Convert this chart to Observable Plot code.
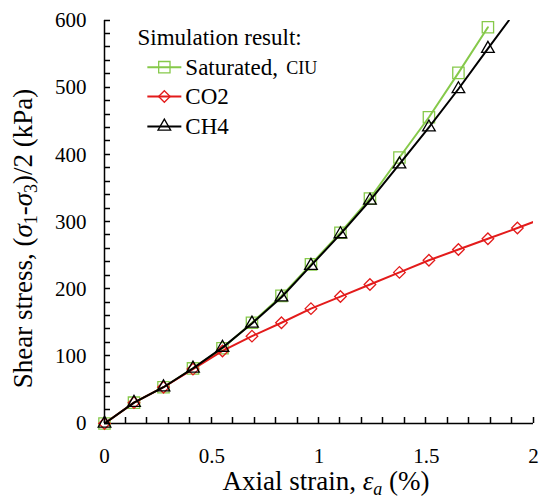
<!DOCTYPE html>
<html><head><meta charset="utf-8">
<script src="https://cdn.jsdelivr.net/npm/d3@7"></script>
<script src="https://cdn.jsdelivr.net/npm/@observablehq/plot@0.6"></script>
<style>body{margin:0;background:#fff}#chart{width:539px;height:499px}</style>
</head><body><div id="chart"></div>
<script>
// ---- data ----
const strain    = [0, 0.1375, 0.275, 0.4125, 0.55, 0.6875, 0.825, 0.9625, 1.1, 1.2375, 1.375, 1.5125, 1.65, 1.7875, 1.925];
const saturated = [0, 31, 54, 82, 112, 150, 190, 237, 284, 335, 396, 456, 522, 590];
const co2       = [0, 31, 54, 81, 108, 130, 150, 171, 189, 207, 225, 243, 259, 275, 291];
const ch4       = [0, 31, 54, 82, 113, 149, 188, 235, 282, 332, 386, 441, 498, 558];
const co2LineEnd = [2.0, 300];   // curve continues past last marker
const ch4LineEnd = [1.885, 600]; // curve leaves the frame at the top
const seriesNames = ["Saturated,", "CO2", "CH4"];
const xTickLabels = [0, 0.5, 1, 1.5, 2];
const yTickLabels = [0, 100, 200, 300, 400, 500, 600];
const xMinorTicks = [0,0.1,0.2,0.3,0.4,0.5,0.6,0.7,0.8,0.9,1,1.1,1.2,1.3,1.4,1.5,1.6,1.7,1.8,1.9,2];
const yMinorTicks = [0,20,40,60,80,100,120,140,160,180,200,220,240,260,280,300,320,340,360,380,400,420,440,460,480,500,520,540,560,580,600];

const GREEN = "#86c94a", RED = "#e31b1b", BLACK = "#000";
const pts = (xs, ys) => ys.map((y, i) => ({x: xs[i], y}));
const satPts = pts(strain, saturated);
const co2Pts = pts(strain, co2);
const ch4Pts = pts(strain, ch4);
const co2Line = [...co2Pts, {x: co2LineEnd[0], y: co2LineEnd[1]}];
const ch4Line = [...ch4Pts, {x: ch4LineEnd[0], y: ch4LineEnd[1]}];

const legendLine = {draw(c){c.moveTo(-17,0); c.lineTo(17,0);}};

const styles = [
  {color: GREEN, symbol: "square", r: 6.4},
  {color: RED, symbol: "diamond2", r: 5.2},
  {color: BLACK, symbol: "triangle", r: 4.7}
];
// legend layout (data units)
const legX = 0.279, legTextX = 0.377, legY = [530.5, 486.9, 442.3];

const legendMarks = [];
seriesNames.forEach((name, i) => {
  const s = styles[i];
  legendMarks.push(
    Plot.dot([0], {x: () => legX, y: () => legY[i], symbol: legendLine, r: 3, stroke: s.color, strokeWidth: 2, fill: "none"}),
    Plot.dot([0], {x: () => legX, y: () => legY[i], symbol: s.symbol, r: s.r, stroke: s.color, strokeWidth: 1.3, fill: "none"}),
    Plot.text([name], {x: () => legTextX, y: () => legY[i], text: d => d, textAnchor: "start", fontSize: 23, fill: "black"})
  );
});
legendMarks.push(
  Plot.text(["CIU"], {x: () => legTextX, y: () => legY[0], text: d => d, textAnchor: "start", dx: 101, dy: 1, fontSize: 18, fill: "black"}),
  Plot.text(["Simulation result:"], {x: () => 0.154, y: () => 575, text: d => d, textAnchor: "start", fontSize: 23, fill: "black"})
);

const series = (line, points, s) => [
  Plot.line(line, {x: "x", y: "y", stroke: s.color, strokeWidth: 2, clip: true}),
  Plot.dot(points, {x: "x", y: "y", symbol: s.symbol, r: s.r, stroke: s.color, strokeWidth: 1.3, fill: "none"})
];

const chart = Plot.plot({
  width: 539, height: 499,
  marginLeft: 104, marginRight: 6, marginTop: 20, marginBottom: 76,
  x: {domain: [0, 2]},
  y: {domain: [0, 600]},
  style: {fontFamily: "'Liberation Serif', 'Times New Roman', serif", fontSize: "21px", color: "black", background: "white", overflow: "visible"},
  marks: [
    Plot.axisX({ticks: xTickLabels, tickSize: 0, tickPadding: 25, tickFormat: d => String(d), label: null, fontSize: 21}),
    Plot.axisY({ticks: yTickLabels, tickSize: 0, tickPadding: 18, tickFormat: d => String(d), label: null, fontSize: 21}),
    Plot.ruleX([0], {y1: 0, y2: 600, stroke: "black", strokeWidth: 1.5}),
    Plot.ruleY([0], {x1: 0, x2: 2, stroke: "black", strokeWidth: 1.5}),
    ...series(satPts, satPts, styles[0]),
    ...series(co2Line, co2Pts, styles[1]),
    ...series(ch4Line, ch4Pts, styles[2]),
    ...legendMarks
  ]
});
document.getElementById("chart").appendChild(chart);

const svg = d3.select(chart);
const xs = chart.scale("x"), ys = chart.scale("y");

// inward minor ticks, positioned through Plot's scales (snapped to the pixel grid)
const snap = v => Math.round(v - 0.5) + 0.5;
const tg = svg.append("g").attr("stroke", "#000").attr("stroke-width", 1.5).attr("fill", "none");
const x0 = xs.apply(0), y0 = ys.apply(0);
xMinorTicks.forEach(t => {
  const px = snap(xs.apply(t));
  tg.append("line").attr("x1", px).attr("x2", px).attr("y1", y0).attr("y2", y0 - 6);
});
yMinorTicks.forEach(t => {
  const py = snap(ys.apply(t));
  tg.append("line").attr("x1", x0).attr("x2", x0 + 6).attr("y1", py).attr("y2", py);
});

// axis titles with italic symbols and subscripts
const xt = svg.append("text")
  .attr("x", 326).attr("y", 490)
  .attr("text-anchor", "middle").attr("font-size", 27).attr("fill", "black");
xt.append("tspan").text("Axial strain, ");
xt.append("tspan").attr("font-style", "italic").text("ε");
xt.append("tspan").attr("font-style", "italic").attr("font-size", 18).attr("dy", 5).text("a");
xt.append("tspan").attr("dy", -5).text(" (%)");

const yt = svg.append("text")
  .attr("transform", `translate(32,${(ys.apply(0) + ys.apply(600)) / 2 + 17}) rotate(-90)`)
  .attr("text-anchor", "middle").attr("font-size", 27).attr("fill", "black");
yt.append("tspan").text("Shear stress, (");
yt.append("tspan").attr("font-style", "italic").text("σ");
yt.append("tspan").attr("font-size", 18).attr("dy", 5).text("1");
yt.append("tspan").attr("dy", -5).text("-");
yt.append("tspan").attr("font-style", "italic").text("σ");
yt.append("tspan").attr("font-size", 18).attr("dy", 5).text("3");
yt.append("tspan").attr("dy", -5).text(")/2 (kPa)");
</script>
</body></html>
